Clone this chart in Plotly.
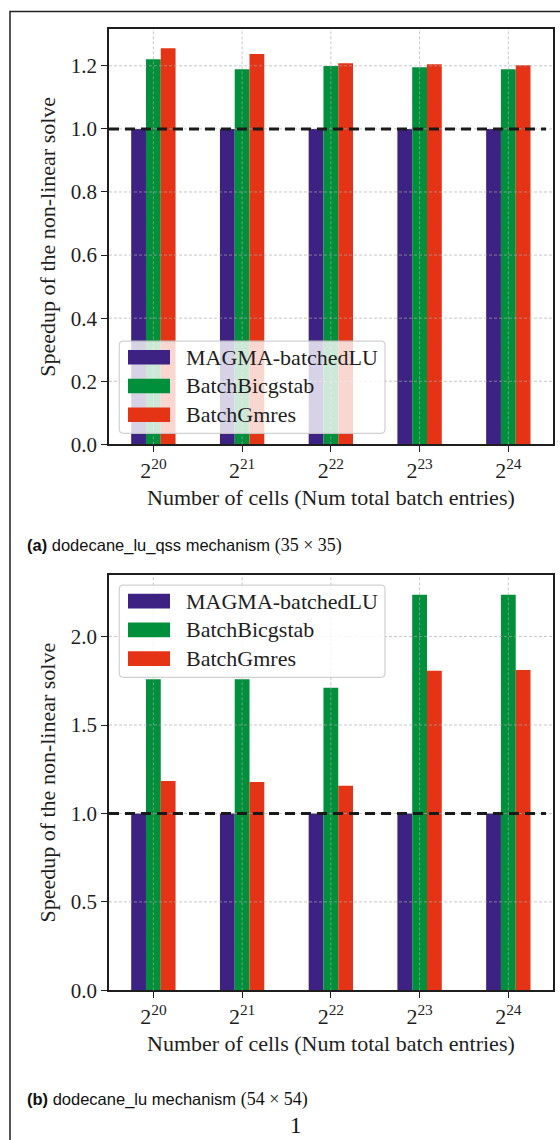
import plotly.graph_objects as go

# ---------------- data ----------------
categories = ["2<sup>20</sup>", "2<sup>21</sup>", "2<sup>22</sup>", "2<sup>23</sup>", "2<sup>24</sup>"]
series_names = ["MAGMA-batchedLU", "BatchBicgstab", "BatchGmres"]

# (a) dodecane_lu_qss (35 x 35)
a_magma = [1.0, 1.0, 1.0, 1.0, 1.0]
a_bicgstab = [1.221, 1.189, 1.199, 1.195, 1.189]
a_gmres = [1.256, 1.237, 1.208, 1.205, 1.202]

# (b) dodecane_lu (54 x 54)
b_magma = [1.0, 1.0, 1.0, 1.0, 1.0]
b_bicgstab = [1.758, 1.758, 1.710, 2.236, 2.236]
b_gmres = [1.183, 1.178, 1.156, 1.807, 1.811]

a_yticks = [0.0, 0.2, 0.4, 0.6, 0.8, 1.0, 1.2]
b_yticks = [0.0, 0.5, 1.0, 1.5, 2.0]
reference_line = 1.0

colors = ["#3d2283", "#008f3b", "#e43415"]
x_title = "Number of cells (Num total batch entries)"
y_title = "Speedup of the non-linear solve"
cap_a = ('<b>(a)</b> dodecane_lu_qss mechanism '
         '<span style="font-family:Liberation Serif;font-size:18px">(35 × 35)</span>')
cap_b = ('<b>(b)</b> dodecane_lu mechanism '
         '<span style="font-family:Liberation Serif;font-size:18px">(54 × 54)</span>')

# ---------------- layout helpers ----------------
W, H = 560, 1140
K = 1.0121          # vertical compensation observed in the rendered page
SERIF = "Liberation Serif"
SANS = "Liberation Sans"
INK = "#1e1e1e"
FS = 22


def px(x):
    return x / W


def py(y):
    return 1 - (y * K) / H


xpos = list(range(len(categories)))
bar_w = 1 / 6
offsets = [-0.25, -1 / 12, 1 / 12]

fig = go.Figure()
panels = [
    ("x", "y", [a_magma, a_bicgstab, a_gmres]),
    ("x2", "y2", [b_magma, b_bicgstab, b_gmres]),
]
for xa, ya, vals in panels:
    for name, v, c, off in zip(series_names, vals, colors, offsets):
        fig.add_trace(go.Bar(
            x=xpos, y=v, name=name, width=bar_w, offset=off,
            marker=dict(color=c, line=dict(width=0)),
            xaxis=xa, yaxis=ya, showlegend=False, hoverinfo="skip",
        ))

ax_left, ax_right = 109, 552.7
top_box = (29, 443.7)
bot_box = (574, 988.9)

common_x = dict(
    range=[-0.5, 4.5], tickvals=xpos, ticktext=categories,
    showline=True, mirror=True, linecolor=INK, linewidth=1.5,
    ticks="outside", ticklen=6, tickwidth=1.3, tickcolor=INK,
    showgrid=False, zeroline=False, fixedrange=True,
    tickfont=dict(family=SERIF, size=FS, color=INK),
    domain=[px(ax_left), px(ax_right)],
)
common_y = dict(
    showline=True, mirror=True, linecolor=INK, linewidth=1.5,
    ticks="outside", ticklen=6, tickwidth=1.3, tickcolor=INK,
    showgrid=False, zeroline=False, fixedrange=True,
    tickfont=dict(family=SERIF, size=21, color=INK),
)

fig.update_layout(
    width=W, height=H,
    margin=dict(l=0, r=0, t=0, b=0),
    paper_bgcolor="white", plot_bgcolor="white",
    showlegend=False,
    xaxis=dict(common_x, anchor="y"),
    yaxis=dict(common_y, anchor="x", range=[0, 1.3165],
               tickvals=a_yticks, ticktext=[f"{t:.1f}" for t in a_yticks],
               domain=[py(top_box[1]), py(top_box[0])]),
    xaxis2=dict(common_x, anchor="y2"),
    yaxis2=dict(common_y, anchor="x2", range=[0, 2.349],
                tickvals=b_yticks, ticktext=[f"{t:.1f}" for t in b_yticks],
                domain=[py(bot_box[1]), py(bot_box[0])]),
)

shapes = []
annotations = []

GRID = dict(color="rgba(170,170,170,0.65)", width=1, dash="3px,2px")


def rounded_rect(x0, y0, x1, y1, r=4):
    X0, X1 = px(x0), px(x1)
    Y0, Y1 = py(y0), py(y1)
    rx, ry = r / W, r / H
    return (f"M {X0+rx},{Y0} L {X1-rx},{Y0} Q {X1},{Y0} {X1},{Y0-ry} "
            f"L {X1},{Y1+ry} Q {X1},{Y1} {X1-rx},{Y1} L {X0+rx},{Y1} "
            f"Q {X0},{Y1} {X0},{Y1+ry} L {X0},{Y0-ry} Q {X0},{Y0} {X0+rx},{Y0} Z")


panel_info = [
    ("x", "y", a_yticks, top_box, 340.7),
    ("x2", "y2", b_yticks, bot_box, 584.3),
]
for xa, ya, yt, box, leg_top in panel_info:
    # grid lines (drawn over bars, as in the original)
    for xv in xpos:
        shapes.append(dict(type="line", xref=xa, yref=f"{ya} domain", x0=xv, x1=xv,
                           y0=0, y1=1, line=GRID, layer="above"))
    for yv in yt[1:]:
        shapes.append(dict(type="line", xref=f"{xa} domain", yref=ya, x0=0, x1=1,
                           y0=yv, y1=yv, line=GRID, layer="above"))
    # reference line
    shapes.append(dict(type="line", xref=f"{xa} domain", yref=ya, x0=0, x1=0.985,
                       y0=reference_line, y1=reference_line,
                       line=dict(color="#1a1a1a", width=3, dash="10px,6px"), layer="above"))
    # legend box
    lx0, lx1 = 119.3, 385
    shapes.append(dict(type="path", xref="paper", yref="paper",
                       path=rounded_rect(lx0, leg_top, lx1, leg_top + 92),
                       fillcolor="rgba(255,255,255,0.8)",
                       line=dict(color="rgba(204,204,204,0.9)", width=1.2), layer="above"))
    for i, (name, c) in enumerate(zip(series_names, colors)):
        cy = leg_top + 16 + i * 28.7
        shapes.append(dict(type="rect", xref="paper", yref="paper",
                           x0=px(128), x1=px(170), y0=py(cy - 7.3), y1=py(cy + 7.3),
                           fillcolor=c, line=dict(width=0), layer="above"))
        annotations.append(dict(xref="paper", yref="paper", x=px(184), y=py(cy),
                                xanchor="left", yanchor="middle", showarrow=False,
                                text=name, font=dict(family=SERIF, size=FS, color=INK)))
    # axis titles
    annotations.append(dict(xref="paper", yref="paper", x=px(48),
                            y=py((box[0] + box[1]) / 2), xanchor="center", yanchor="middle",
                            textangle=-90, showarrow=False, text=y_title,
                            font=dict(family=SERIF, size=FS, color=INK)))
    annotations.append(dict(xref="paper", yref="paper", x=px((ax_left + ax_right) / 2),
                            y=py(box[1] + 53), xanchor="center", yanchor="middle",
                            showarrow=False, text=x_title,
                            font=dict(family=SERIF, size=FS, color=INK)))

# captions
annotations.append(dict(xref="paper", yref="paper", x=px(25), y=py(545),
                        xanchor="left", yanchor="middle", showarrow=False, text=cap_a,
                        font=dict(family=SANS, size=16.5, color="#111")))
annotations.append(dict(xref="paper", yref="paper", x=px(25), y=py(1098),
                        xanchor="left", yanchor="middle", showarrow=False, text=cap_b,
                        font=dict(family=SANS, size=16.5, color="#111")))
annotations.append(dict(xref="paper", yref="paper", x=px(296), y=py(1124),
                        xanchor="center", yanchor="middle", showarrow=False, text="1",
                        font=dict(family=SERIF, size=23, color="#111")))

# page frame
shapes.append(dict(type="rect", xref="paper", yref="paper",
                   x0=px(10), x1=px(575), y0=-0.05, y1=py(11.5),
                   line=dict(color="#222", width=1.5), fillcolor="rgba(0,0,0,0)", layer="above"))

fig.update_layout(shapes=shapes, annotations=annotations)
page_css = (
    "var s='margin:0;padding:0;overflow:hidden;height:1140px;width:560px;';"
    "document.documentElement.style.cssText=s;document.body.style.cssText=s;"
)
fig.write_html(
    "out.html",
    config={"displayModeBar": False},
    post_script=page_css,
)
